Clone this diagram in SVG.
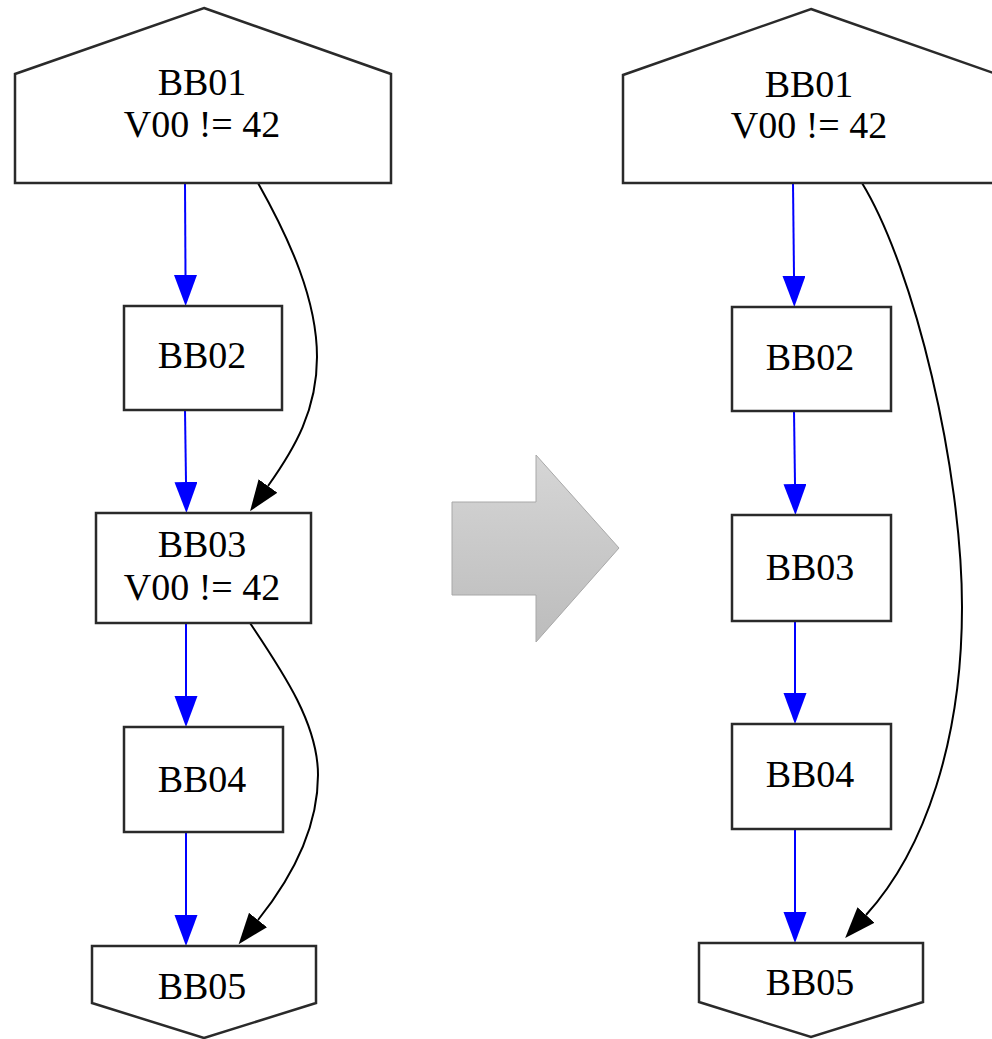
<svg xmlns="http://www.w3.org/2000/svg" width="992" height="1039" viewBox="0 0 992 1039">
<style>
.node{fill:#fff;stroke:#2a2a2a;stroke-width:2.5}
.lbl{font-family:"Liberation Serif","Times New Roman",serif;font-size:38px;fill:#000;text-anchor:middle}
.blue{fill:none;stroke:#0000ff;stroke-width:2}
.black{fill:none;stroke:#000;stroke-width:2}
</style>
<defs>
<marker id="ab" markerUnits="userSpaceOnUse" markerWidth="32" markerHeight="24" refX="0" refY="11.5" orient="auto" viewBox="0 0 32 24">
<path d="M0,0 L31,11.5 L0,23 z" fill="#0000ff"/>
</marker>
<marker id="ak" markerUnits="userSpaceOnUse" markerWidth="32" markerHeight="24" refX="0" refY="11.5" orient="auto" viewBox="0 0 32 24">
<path d="M0,0 L31,11.5 L0,23 z" fill="#000"/>
</marker>
<linearGradient id="gg" x1="0" y1="0" x2="0" y2="1">
<stop offset="0" stop-color="#d6d6d6"/>
<stop offset="1" stop-color="#bcbcbc"/>
</linearGradient>
</defs>
<rect width="992" height="1039" fill="#fff"/>

<g id="connectors">
<path class="blue" d="M185,183 L185.5,275" marker-end="url(#ab)"/>
<path class="blue" d="M185,410 L186,482" marker-end="url(#ab)"/>
<path class="blue" d="M186,623 L186,696" marker-end="url(#ab)"/>
<path class="blue" d="M186,832 L186,915" marker-end="url(#ab)"/>
<path class="black" d="M258,183 C290,240 317,300 317,357 C317,410 295,448 268,486" marker-end="url(#ak)"/>
<path class="black" d="M250,623 C285,675 318,725 318,775 C318,830 290,880 258,920" marker-end="url(#ak)"/>
<path class="blue" d="M793,183 L794,276" marker-end="url(#ab)"/>
<path class="blue" d="M794,411 L795,484" marker-end="url(#ab)"/>
<path class="blue" d="M795,621 L795,693" marker-end="url(#ab)"/>
<path class="blue" d="M795,829 L795,912" marker-end="url(#ab)"/>
<path class="black" d="M862,183 C915,270 962,470 962,607 C962,740 925,850 866,915" marker-end="url(#ak)"/>
</g>

<g id="transform-arrow">
<polygon points="452,502 536,502 536,455 619,548 536,642 536,595 452,595" fill="url(#gg)" stroke="#a8a8a8" stroke-width="1"/>
</g>

<g id="L_BB01">
<polygon class="node" points="204,8 391,74 391,183 15,183 15,74"/>
<text class="lbl" x="202" y="95">BB01</text>
<text class="lbl" x="202" y="137">V00 != 42</text>
</g>
<g id="L_BB02">
<rect class="node" x="124" y="306" width="158" height="104"/>
<text class="lbl" x="202" y="368">BB02</text>
</g>
<g id="L_BB03">
<rect class="node" x="96" y="513" width="215" height="110"/>
<text class="lbl" x="202" y="557">BB03</text>
<text class="lbl" x="202" y="600">V00 != 42</text>
</g>
<g id="L_BB04">
<rect class="node" x="124" y="727" width="159" height="105"/>
<text class="lbl" x="202" y="792">BB04</text>
</g>
<g id="L_BB05">
<polygon class="node" points="92,946 316,946 316,1003 204,1038 92,1003"/>
<text class="lbl" x="202" y="999">BB05</text>
</g>

<g id="R_BB01">
<polygon class="node" points="811,9 999,75 999,183 623,183 623,75"/>
<text class="lbl" x="809" y="97">BB01</text>
<text class="lbl" x="809" y="138">V00 != 42</text>
</g>
<g id="R_BB02">
<rect class="node" x="732" y="307" width="159" height="104"/>
<text class="lbl" x="810" y="370">BB02</text>
</g>
<g id="R_BB03">
<rect class="node" x="732" y="515" width="159" height="106"/>
<text class="lbl" x="810" y="580">BB03</text>
</g>
<g id="R_BB04">
<rect class="node" x="732" y="724" width="159" height="105"/>
<text class="lbl" x="810" y="787">BB04</text>
</g>
<g id="R_BB05">
<polygon class="node" points="699,943 923,943 923,1002 811,1037 699,1002"/>
<text class="lbl" x="810" y="995">BB05</text>
</g>
</svg>
